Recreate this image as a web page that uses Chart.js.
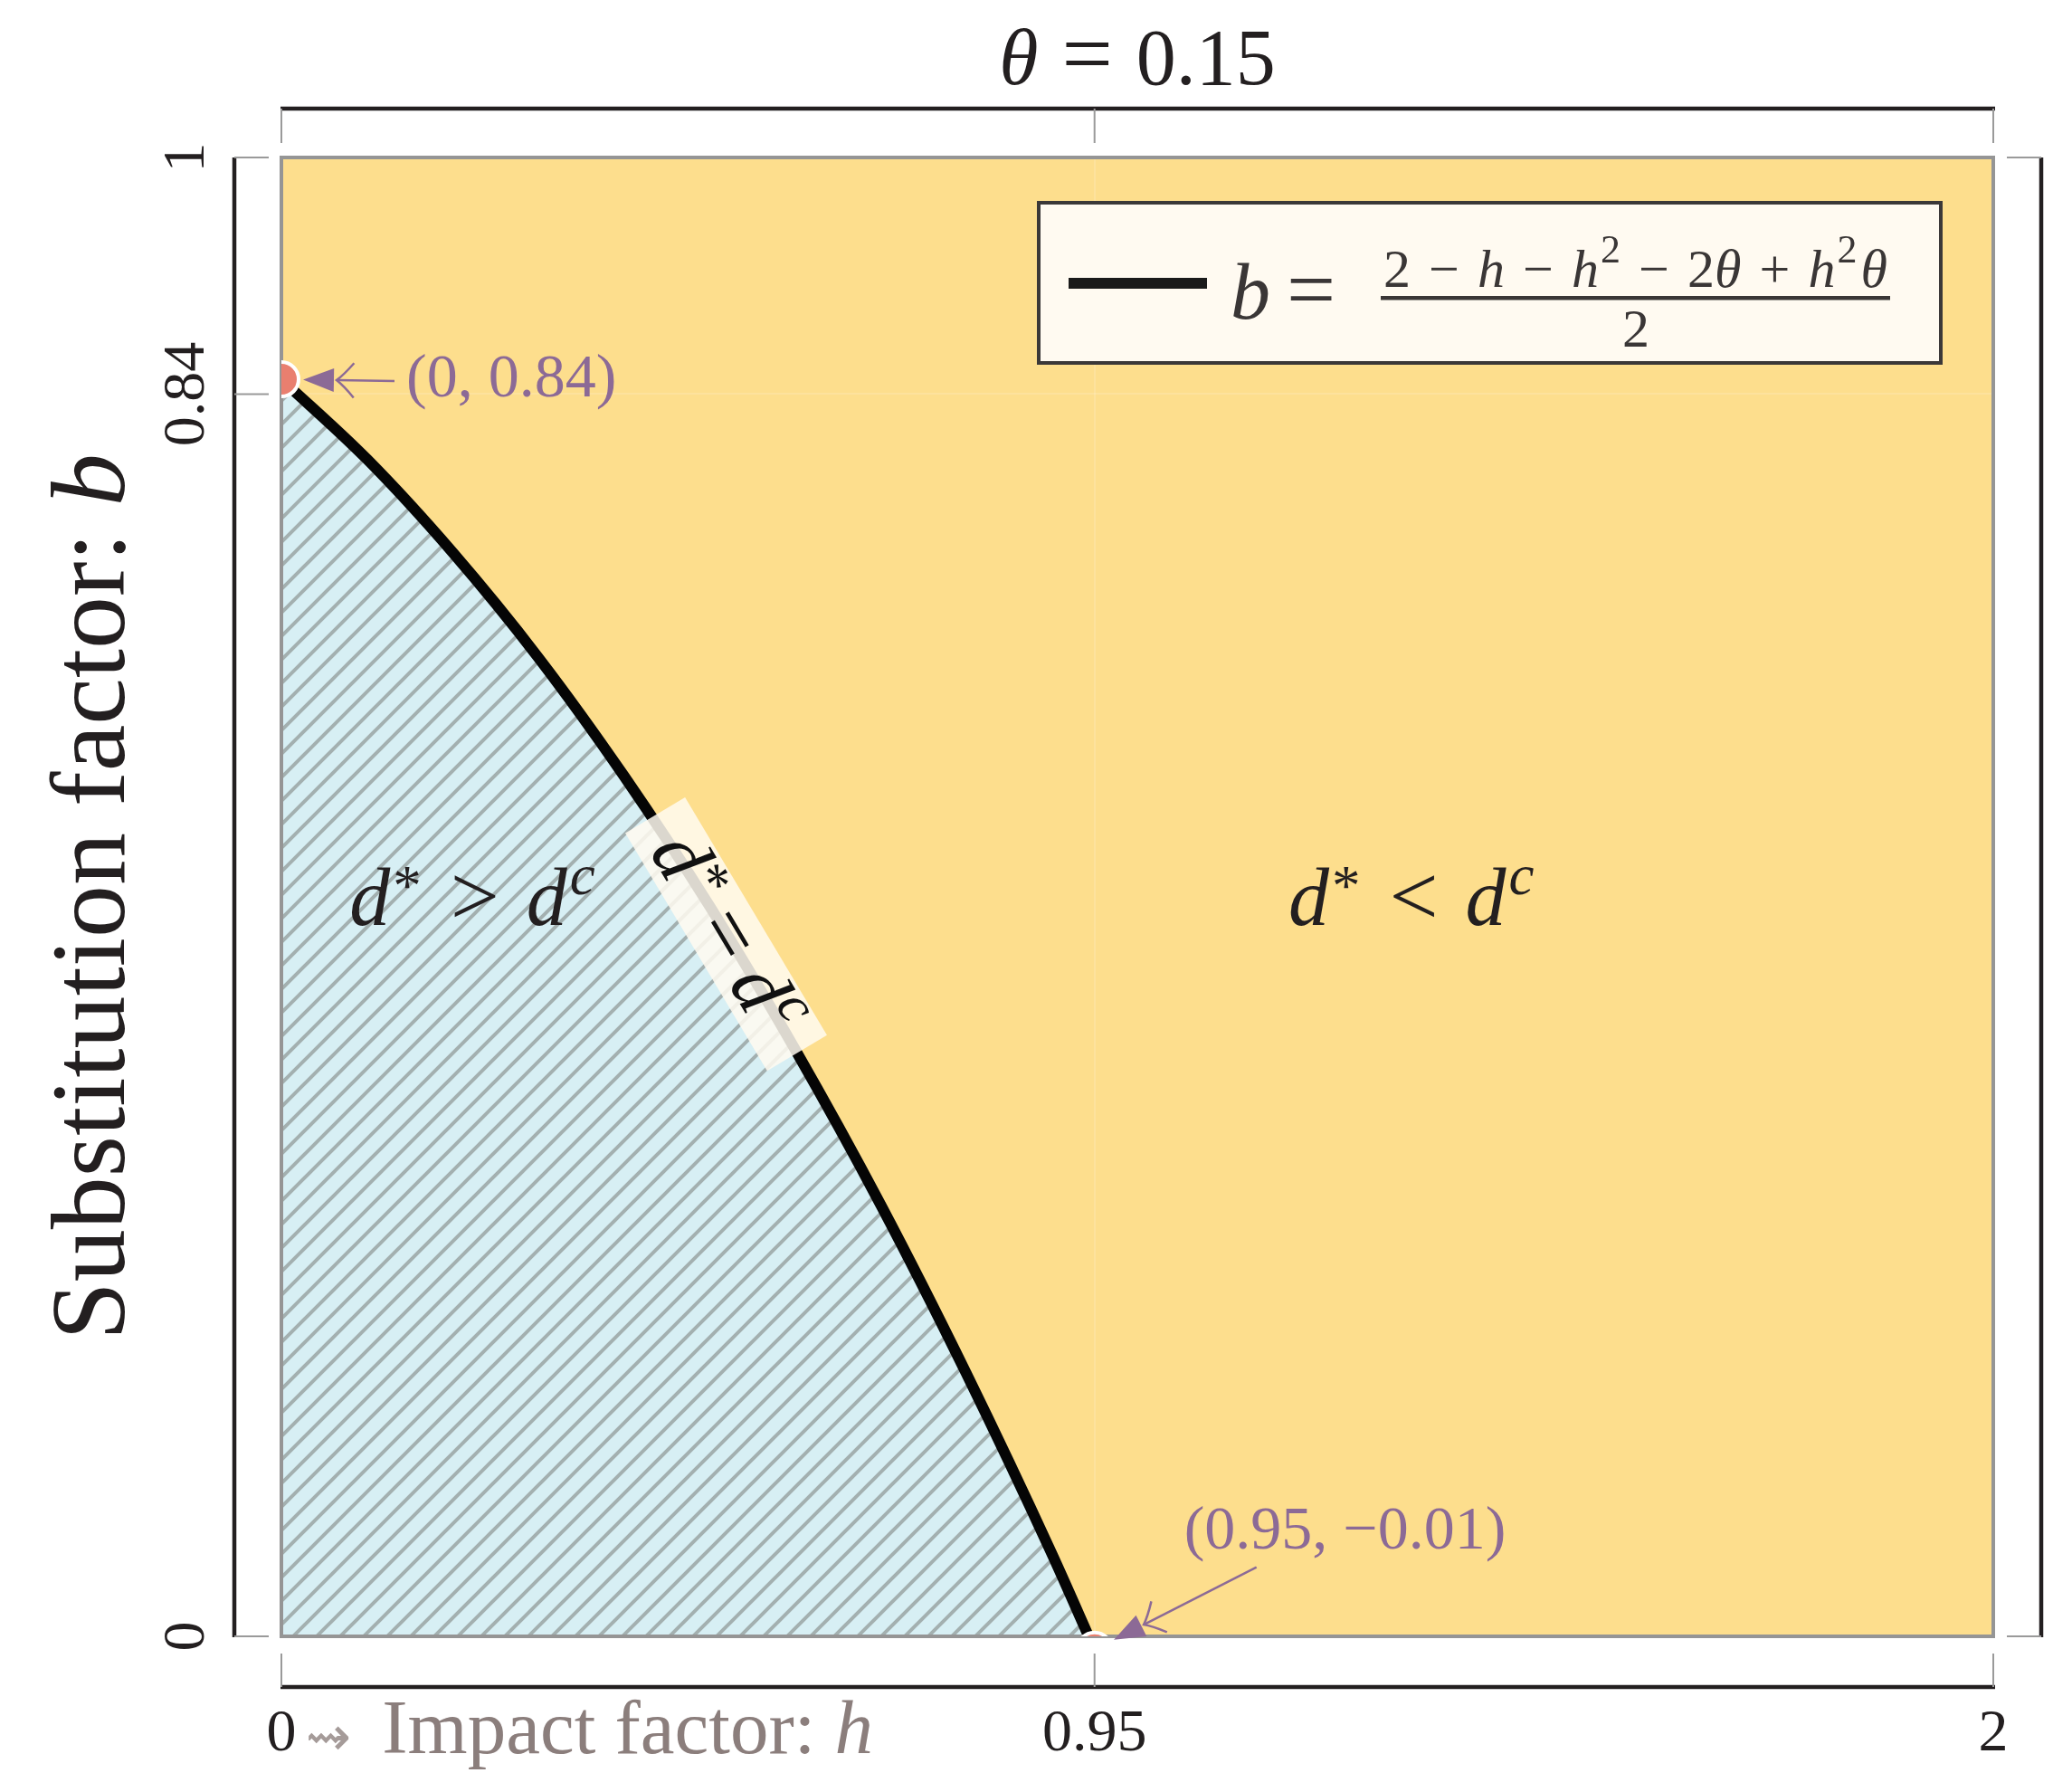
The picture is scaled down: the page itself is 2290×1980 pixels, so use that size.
<!DOCTYPE html>
<html><head><meta charset="utf-8">
<script src="https://cdn.jsdelivr.net/npm/chart.js@4.4.1/dist/chart.umd.min.js"></script>
<style>html,body{margin:0;padding:0;background:#fff;} canvas{display:block;}</style>
</head><body>
<canvas id="c" width="2290" height="1980"></canvas>
<script>
// ---- data ----
const hValues = [0, 0.1, 0.2, 0.3, 0.4, 0.5, 0.6, 0.7, 0.8, 0.9, 0.95];
const bValues = [0.85, 0.796, 0.733, 0.662, 0.582, 0.494, 0.397, 0.292, 0.178, 0.056, -0.009];
const markH = [0, 0.95];
const markB = [0.85, -0.009];
const markLabels = ['(0, 0.84)', '(0.95, \u22120.01)'];
const xTickValues = [0, 0.95, 2];
const xTickLabels = ['0', '0.95', '2'];
const yTickValues = [0, 0.84, 1];
const yTickLabels = ['0', '0.84', '1'];
const y2TickValues = [0, 1];
const thetaText = '0.15';

// ---- styles ----
const SERIF = '"Liberation Serif", "Times New Roman", serif';
const INK = '#231f20';
const YELLOW = '#FDDE8D';
const PURPLE = '#8C6A96';
const XTITLE = '#8B7E7C';

function fnt(size, italic, fam) { return (italic ? 'italic ' : '') + size + 'px ' + (fam || SERIF); }
function drawRuns(ctx, runs, x, y, align) {
  let w = 0; const ws = [];
  runs.forEach(r => { ctx.font = fnt(r.s, r.it, r.fam); const m = ctx.measureText(r.t).width; ws.push(m); w += (r.gap || 0) + m; });
  let cx = align === 'center' ? x - w / 2 : (align === 'right' ? x - w : x);
  ctx.textAlign = 'left'; ctx.textBaseline = 'alphabetic';
  runs.forEach((r, i) => {
    cx += (r.gap || 0); ctx.font = fnt(r.s, r.it, r.fam);
    if (r.col) { const old = ctx.fillStyle; ctx.fillStyle = r.col; ctx.fillText(r.t, cx, y + (r.dy || 0)); ctx.fillStyle = old; }
    else ctx.fillText(r.t, cx, y + (r.dy || 0));
    cx += ws[i];
  });
  return w;
}
function runsWidth(ctx, runs) {
  let w = 0;
  runs.forEach(r => { ctx.font = fnt(r.s, r.it, r.fam); w += (r.gap || 0) + ctx.measureText(r.t).width; });
  return w;
}

function makeHatch() {
  const s = 26; const c = document.createElement('canvas'); c.width = s; c.height = s;
  const g = c.getContext('2d');
  g.fillStyle = '#D7EFF4'; g.fillRect(0, 0, s, s);
  g.strokeStyle = '#A3B0B0'; g.lineWidth = 4;
  g.beginPath();
  g.moveTo(-3, s + 3); g.lineTo(s + 3, -3);
  g.moveTo(-3, 3); g.lineTo(3, -3);
  g.moveTo(s - 3, s + 3); g.lineTo(s + 3, s - 3);
  g.stroke();
  return g.createPattern(c, 'repeat');
}

const overlay = {
  id: 'overlay',
  beforeDraw(chart) {
    const {ctx, chartArea: a} = chart;
    ctx.save(); ctx.fillStyle = YELLOW; ctx.fillRect(a.left, a.top, a.right - a.left, a.bottom - a.top); ctx.restore();
  },
  afterDatasetDraw(chart, args) {
    if (args.index !== 0) return;
    const {ctx, chartArea: a} = chart;
    ctx.save(); ctx.strokeStyle = '#959595'; ctx.lineWidth = 4;
    ctx.strokeRect(a.left, a.top, a.right - a.left, a.bottom - a.top); ctx.restore();
  },
  afterDatasetsDraw(chart) {
    const {ctx, chartArea: a, scales} = chart;
    const X = scales.x, Y = scales.y;
    ctx.save();
    // rotated label on the curve
    const i0 = 5, i1 = 6;
    const dx = X.getPixelForValue(hValues[i1]) - X.getPixelForValue(hValues[i0]);
    const dy = Y.getPixelForValue(bValues[i1]) - Y.getPixelForValue(bValues[i0]);
    const ang = Math.atan2(dy, dx);
    const lx = X.getPixelForValue(0.52), ly = Y.getPixelForValue(0.475);
    ctx.translate(lx, ly); ctx.rotate(ang);
    ctx.fillStyle = 'rgba(255,250,240,0.86)';
    ctx.fillRect(-153, -38, 306, 77);
    ctx.fillStyle = '#111';
    drawRuns(ctx, [
      {t: 'd', s: 88, it: true}, {t: '*', s: 62, dy: -22, gap: 3},
      {t: '=', s: 92, gap: 20}, {t: 'd', s: 88, it: true, gap: 20}, {t: 'c', s: 62, it: true, dy: -33, gap: 3}
    ], 0, 27, 'center');
    ctx.restore();

    // region labels
    ctx.save(); ctx.fillStyle = INK;
    const regionRuns = (op) => [
      {t: 'd', s: 90, it: true}, {t: '*', s: 63, dy: -22, gap: 3},
      {t: op, s: 96, gap: 32}, {t: 'd', s: 90, it: true, gap: 30}, {t: 'c', s: 63, it: true, dy: -34, gap: 3}
    ];
    drawRuns(ctx, regionRuns('>'), X.getPixelForValue(0.223), Y.getPixelForValue(0.481), 'center');
    drawRuns(ctx, regionRuns('<'), X.getPixelForValue(1.32), Y.getPixelForValue(0.481), 'center');
    ctx.restore();

    // annotations
    const ann = [
      {tx: 138, ty: 19, sx: 125, sy: 2},
      {tx: 99, ty: -112, sx: 179, sy: -91}
    ];
    ctx.save();
    ctx.strokeStyle = PURPLE; ctx.fillStyle = PURPLE; ctx.lineWidth = 2.5;
    markH.forEach((h, i) => {
      const px = X.getPixelForValue(h), py = Y.getPixelForValue(markB[i]);
      const o = ann[i];
      ctx.font = fnt(68, false); ctx.textAlign = 'left'; ctx.textBaseline = 'alphabetic';
      ctx.fillText(markLabels[i], px + o.tx, py + o.ty);
      const sx = px + o.sx, sy = py + o.sy;
      let ux = sx - px, uy = sy - py; const L = Math.hypot(ux, uy); ux /= L; uy /= L;
      const tx = px + ux * 24, ty = py + uy * 24;
      const bx = tx + ux * 34, by = ty + uy * 34;
      const nx = -uy, ny = ux;
      ctx.beginPath(); ctx.moveTo(tx, ty); ctx.lineTo(bx + nx * 13, by + ny * 13); ctx.lineTo(bx - nx * 13, by - ny * 13); ctx.closePath(); ctx.fill();
      const cx = tx + ux * 37, cy = ty + uy * 37;
      ctx.beginPath(); ctx.moveTo(sx, sy); ctx.lineTo(cx, cy); ctx.stroke();
      const c45 = Math.cos(Math.PI / 4), s45 = Math.sin(Math.PI / 4);
      const a1x = ux * c45 - uy * s45, a1y = ux * s45 + uy * c45;
      const a2x = ux * c45 + uy * s45, a2y = -ux * s45 + uy * c45;
      ctx.beginPath();
      ctx.moveTo(cx + a1x * 27, cy + a1y * 27); ctx.quadraticCurveTo(cx + a1x * 8 + ux * 2, cy + a1y * 8 + uy * 2, cx, cy);
      ctx.quadraticCurveTo(cx + a2x * 8 + ux * 2, cy + a2y * 8 + uy * 2, cx + a2x * 27, cy + a2y * 27);
      ctx.stroke();
    });
    ctx.restore();

    // legend
    ctx.save();
    const W = 997, H = 177;
    const Lx = a.right - 58 - W, Ly = a.top + 50;
    ctx.fillStyle = '#FFFAF1'; ctx.fillRect(Lx, Ly, W, H);
    ctx.strokeStyle = '#3B3838'; ctx.lineWidth = 4; ctx.strokeRect(Lx, Ly, W, H);
    ctx.strokeStyle = '#1a1a1a'; ctx.lineWidth = 12; ctx.beginPath(); ctx.moveTo(Lx + 33, Ly + 89); ctx.lineTo(Lx + 186, Ly + 89); ctx.stroke();
    ctx.fillStyle = '#3a3636';
    drawRuns(ctx, [{t: 'b', s: 88, it: true}, {t: '=', s: 96, gap: 18}], Lx + 212, Ly + 128, 'left');
    const g = 'G';
    const NS = 60, SS = 44;
    const num = [
      {t: '2', s: NS}, {t: '\u2212', s: NS, gap: g}, {t: 'h', s: NS, it: true, gap: g}, {t: '\u2212', s: NS, gap: g},
      {t: 'h', s: NS, it: true, gap: g}, {t: '2', s: SS, dy: -27, gap: 2}, {t: '\u2212', s: NS, gap: g}, {t: '2', s: NS, gap: g},
      {t: '\u03b8', s: NS, it: true}, {t: '+', s: NS, gap: g}, {t: 'h', s: NS, it: true, gap: g}, {t: '2', s: SS, dy: -27, gap: 2},
      {t: '\u03b8', s: NS, it: true, gap: 4}
    ];
    const base = runsWidth(ctx, num.map(r => Object.assign({}, r, {gap: r.gap === g ? 0 : r.gap})));
    const gv = Math.max(0, (557 - base) / 8);
    num.forEach(r => { if (r.gap === g) r.gap = gv; });
    drawRuns(ctx, num, Lx + 381, Ly + 93, 'left');
    ctx.fillRect(Lx + 378, Ly + 103, 563, 4.5);
    drawRuns(ctx, [{t: '2', s: NS}], Lx + 660, Ly + 159, 'center');
    ctx.restore();
  },
  afterDraw(chart) {
    const {ctx, chartArea: a, scales} = chart;
    ctx.save();
    // spines
    ctx.strokeStyle = INK; ctx.lineWidth = 4.5; ctx.lineCap = 'butt';
    const line = (x1, y1, x2, y2) => { ctx.beginPath(); ctx.moveTo(x1, y1); ctx.lineTo(x2, y2); ctx.stroke(); };
    line(a.left - 1, a.bottom + 56, a.right + 2, a.bottom + 56);
    line(a.left - 1, a.top - 54, a.right + 2, a.top - 54);
    line(a.left - 52, a.top, a.left - 52, a.bottom + 1);
    line(a.right + 53, a.top, a.right + 53, a.bottom + 1);
    // ticks
    ctx.strokeStyle = '#9a9a9a'; ctx.lineWidth = 2;
    scales.x.ticks.forEach(t => { const p = scales.x.getPixelForValue(t.value); line(p, a.bottom + 19, p, a.bottom + 56); });
    scales.x2.ticks.forEach(t => { const p = scales.x2.getPixelForValue(t.value); line(p, a.top - 54, p, a.top - 16); });
    scales.y.ticks.forEach(t => { const p = scales.y.getPixelForValue(t.value); line(a.left - 52, p, a.left - 14, p); });
    scales.y2.ticks.forEach(t => { const p = scales.y2.getPixelForValue(t.value); line(a.right + 15, p, a.right + 53, p); });
    // title
    ctx.fillStyle = INK;
    drawRuns(ctx, [{t: '\u03b8', s: 88, it: true}, {t: '=', s: 100, gap: 26}, {t: thetaText, s: 88, gap: 26}], (a.left + a.right) / 2, 93, 'center');
    // x title
    ctx.fillStyle = XTITLE;
    drawRuns(ctx, [{t: '\u21dd', s: 60, fam: '"DejaVu Sans", sans-serif', dy: 2, col: '#A59B99'}, {t: 'Impact factor: ', s: 85, gap: 34}, {t: 'h', s: 85, it: true}], a.left + 27, a.bottom + 129, 'left');
    // y title
    ctx.fillStyle = INK;
    ctx.translate(137, (a.top + a.bottom) / 2); ctx.rotate(-Math.PI / 2);
    drawRuns(ctx, [{t: 'Substitution factor: ', s: 116}, {t: 'b', s: 116, it: true}], 0, 0, 'center');
    ctx.restore();
  }
};

const hatch = makeHatch();
const curveData = hValues.map((h, i) => ({x: h, y: bValues[i]}));
const markData = markH.map((h, i) => ({x: h, y: markB[i]}));

new Chart(document.getElementById('c'), {
  type: 'line',
  data: {
    datasets: [
      {label: 'b', data: curveData, borderColor: '#050505', borderWidth: 12, backgroundColor: hatch,
       fill: 'origin', pointRadius: 0, cubicInterpolationMode: 'monotone', clip: 0, order: 2},
      {label: 'marks', data: markData, showLine: false, pointRadius: 19, pointBackgroundColor: '#E97F6F',
       pointBorderColor: '#ffffff', pointBorderWidth: 4, clip: 0, order: 1}
    ]
  },
  options: {
    responsive: false, animation: false, devicePixelRatio: 1,
    layout: {padding: 0},
    plugins: {legend: {display: false}, tooltip: {enabled: false}, title: {display: false}},
    scales: {
      x: {type: 'linear', position: 'bottom', min: 0, max: 2,
        afterBuildTicks: s => { s.ticks = xTickValues.map(v => ({value: v})); },
        afterFit: s => { s.height = 172; },
        ticks: {callback: (v, i) => xTickLabels[i], font: {family: SERIF, size: 66}, color: INK, padding: 69, maxRotation: 0, minRotation: 0, autoSkip: false},
        grid: {display: true, drawOnChartArea: true, drawTicks: false, color: 'rgba(255,255,255,0.14)', lineWidth: 2},
        border: {display: false}},
      x2: {type: 'linear', position: 'top', min: 0, max: 2,
        afterBuildTicks: s => { s.ticks = xTickValues.map(v => ({value: v})); },
        afterFit: s => { s.height = 174; },
        ticks: {display: false}, grid: {display: false}, border: {display: false}},
      y: {type: 'linear', position: 'left', min: 0, max: 1,
        afterBuildTicks: s => { s.ticks = yTickValues.map(v => ({value: v})); },
        afterFit: s => { s.width = 311; },
        ticks: {callback: (v, i) => yTickLabels[i], font: {family: SERIF, size: 66}, color: INK, padding: 46, minRotation: 90, maxRotation: 90, crossAlign: 'center', autoSkip: false},
        grid: {display: true, drawOnChartArea: true, drawTicks: false, color: 'rgba(255,255,255,0.14)', lineWidth: 2},
        border: {display: false}},
      y2: {type: 'linear', position: 'right', min: 0, max: 1,
        afterBuildTicks: s => { s.ticks = y2TickValues.map(v => ({value: v})); },
        afterFit: s => { s.width = 87; },
        ticks: {display: false}, grid: {display: false}, border: {display: false}}
    }
  },
  plugins: [overlay]
});
</script>
</body></html>
